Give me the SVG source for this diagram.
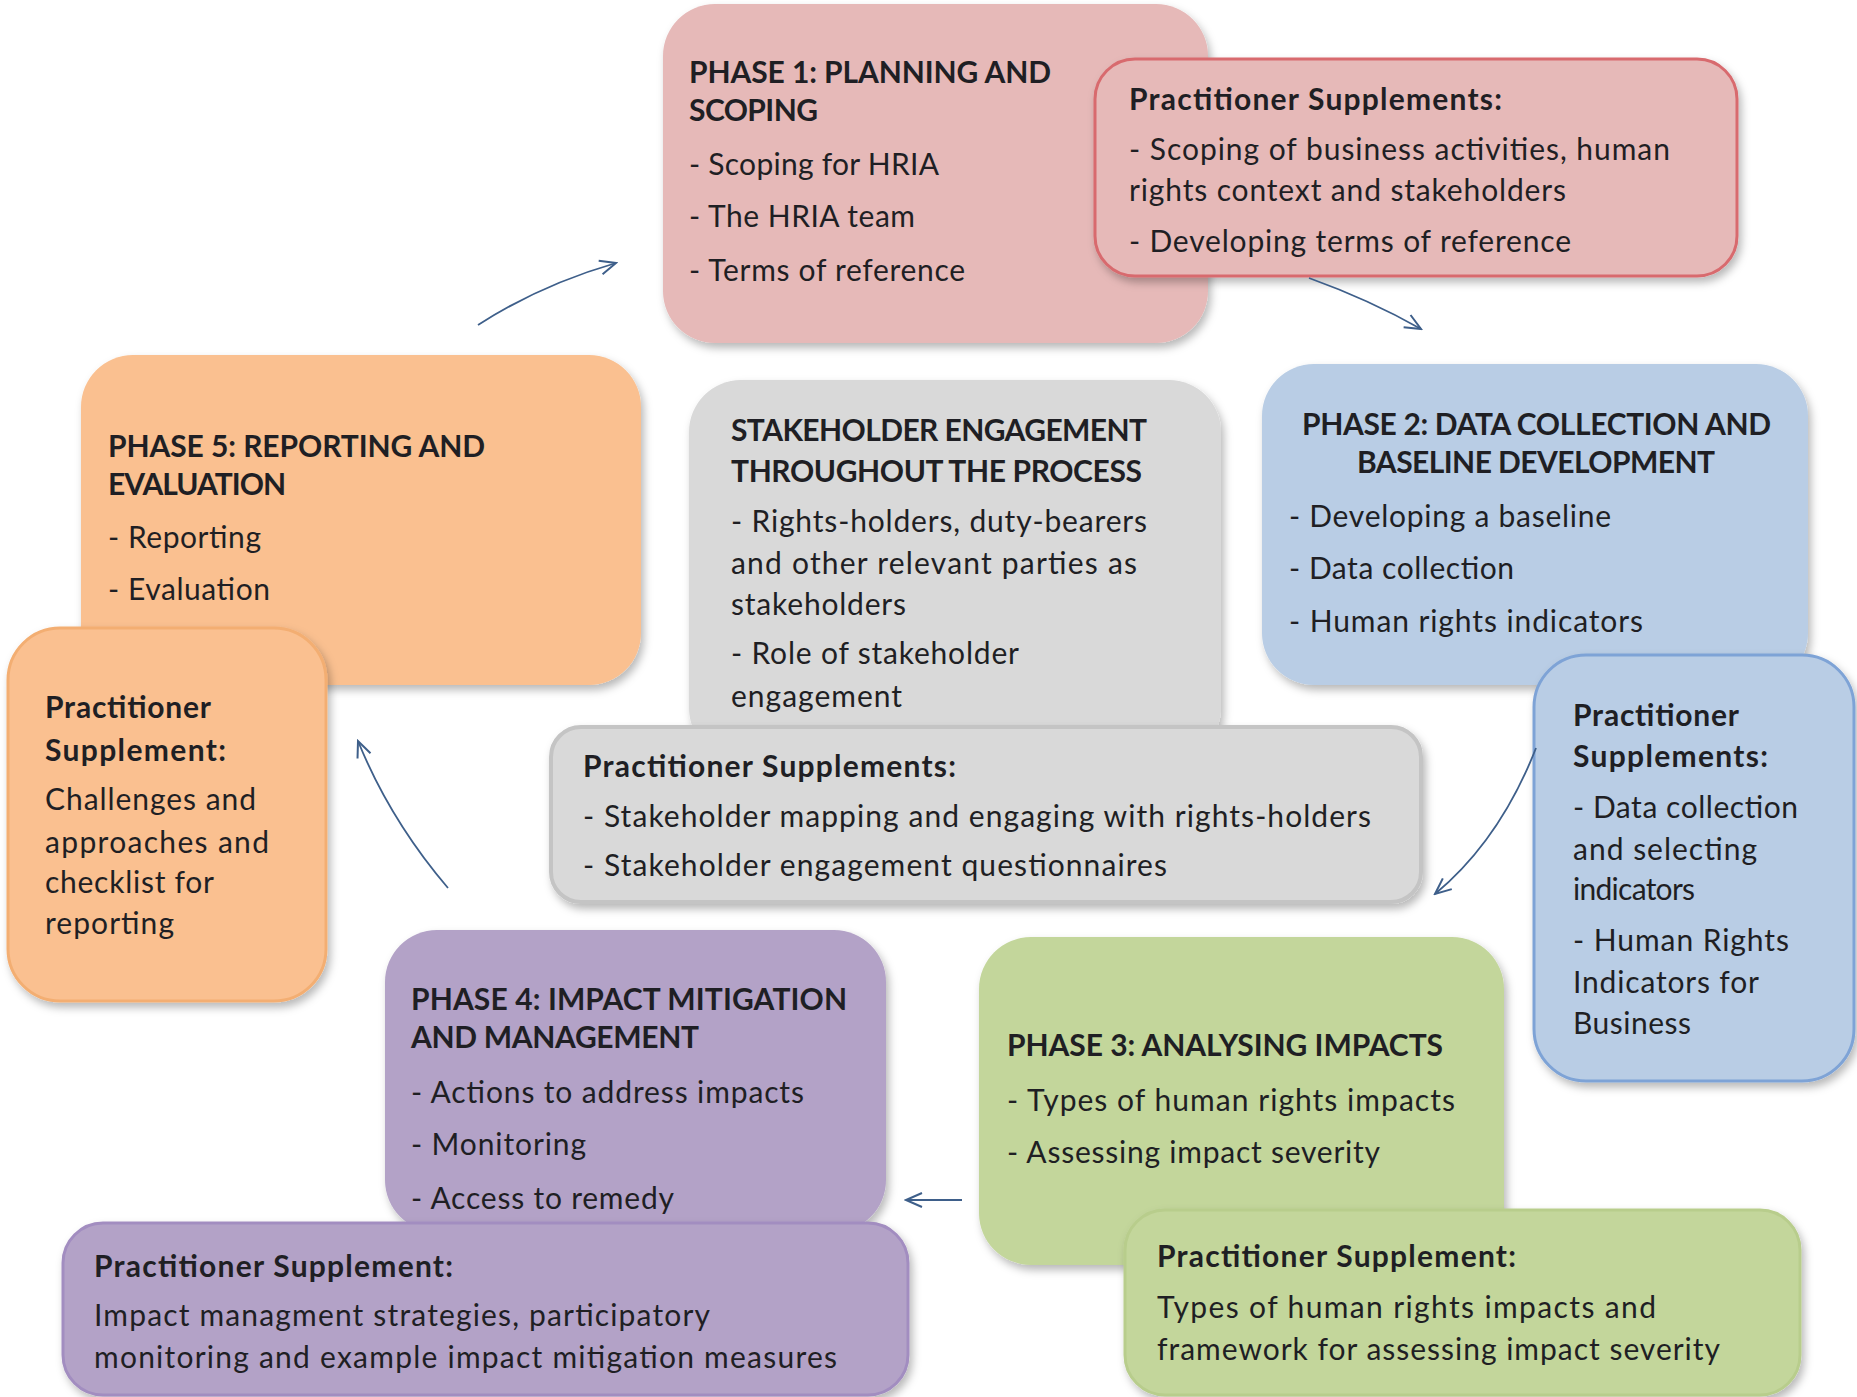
<svg xmlns="http://www.w3.org/2000/svg" width="1857" height="1397" viewBox="0 0 1857 1397">
<defs>
<filter id="sh" x="-10%" y="-10%" width="125%" height="130%">
<feDropShadow dx="3" dy="5" stdDeviation="4" flood-color="#000" flood-opacity="0.28"/>
</filter>
<marker id="ah" viewBox="0 0 20 20" refX="18" refY="10" markerWidth="20" markerHeight="20" markerUnits="userSpaceOnUse" orient="auto">
<path d="M2,3 L18,10 L2,17" fill="none" stroke="#3E5F8A" stroke-width="2"/>
</marker>
<style>
text{font-family:Lato,"Open Sans","Liberation Sans",sans-serif;font-size:30px;fill:#1f1f24}
.b{font-weight:bold}
.c{stroke:#3E5F8A;stroke-width:1.8;fill:none}
</style>
</defs>
<rect width="1857" height="1397" fill="#fff"/>

<g id="phase1">
<rect x="663" y="4" width="545" height="339" rx="52" fill="#E6B9B8" filter="url(#sh)"/>
<text x="689" y="83" class="b" textLength="362">PHASE 1: PLANNING  AND</text>
<text x="689" y="121" class="b" textLength="129">SCOPING</text>
<text x="689" y="175" textLength="250">- Scoping for HRIA</text>
<text x="689" y="227" textLength="226">- The HRIA team</text>
<text x="689" y="281" textLength="276">- Terms of reference</text>
</g>
<g id="phase2">
<rect x="1262" y="364" width="546" height="321" rx="52" fill="#B9CDE5" filter="url(#sh)"/>
<text x="1302" y="435" class="b" textLength="469">PHASE 2: DATA COLLECTION AND</text>
<text x="1357" y="473" class="b" textLength="358">BASELINE DEVELOPMENT</text>
<text x="1289" y="527" textLength="322">- Developing  a baseline</text>
<text x="1289" y="579" textLength="225">- Data  collection</text>
<text x="1289" y="632" textLength="354">- Human rights indicators</text>
</g>
<g id="stakeholder">
<rect x="689" y="380" width="532" height="380" rx="52" fill="#D9D9D9" filter="url(#sh)"/>
<text x="731" y="441" class="b" textLength="416">STAKEHOLDER  ENGAGEMENT</text>
<text x="731" y="482" class="b" textLength="411">THROUGHOUT THE PROCESS</text>
<text x="731" y="532" textLength="416">- Rights-holders, duty-bearers</text>
<text x="731" y="574" textLength="406">and other relevant parties as</text>
<text x="731" y="615" textLength="175">stakeholders</text>
<text x="731" y="664" textLength="288">- Role of stakeholder</text>
<text x="731" y="707" textLength="171">engagement</text>
</g>
<g id="phase3">
<rect x="979" y="937" width="525" height="328" rx="52" fill="#C3D69B" filter="url(#sh)"/>
<text x="1007" y="1056" class="b" textLength="436">PHASE 3: ANALYSING  IMPACTS</text>
<text x="1007" y="1111" textLength="448">- Types of human rights impacts</text>
<text x="1007" y="1163" textLength="373">- Assessing impact severity</text>
</g>
<g id="phase4">
<rect x="385" y="930" width="501" height="302" rx="52" fill="#B3A2C7" filter="url(#sh)"/>
<text x="411" y="1010" class="b" textLength="436">PHASE 4: IMPACT MITIGATION</text>
<text x="411" y="1048" class="b" textLength="288">AND MANAGEMENT</text>
<text x="411" y="1103" textLength="393">- Actions to address impacts</text>
<text x="411" y="1155" textLength="175">- Monitoring</text>
<text x="411" y="1209" textLength="263">- Access to remedy</text>
</g>
<g id="phase5">
<rect x="81" y="355" width="560" height="330" rx="52" fill="#FAC090" filter="url(#sh)"/>
<text x="108" y="457" class="b" textLength="377">PHASE 5: REPORTING AND</text>
<text x="108" y="495" class="b" textLength="178">EVALUATION</text>
<text x="108" y="548" textLength="153">- Reporting</text>
<text x="108" y="600" textLength="162">- Evaluation</text>
</g>

<g id="supp1">
<rect x="1095" y="59" width="642" height="217" rx="40" fill="#E6B9B8" stroke="#D86A6E" stroke-width="3" filter="url(#sh)"/>
<text x="1129" y="110" class="b" textLength="373">Practitioner Supplements:</text>
<text x="1129" y="160" textLength="541">- Scoping of business activities, human</text>
<text x="1129" y="201" textLength="437">rights context and stakeholders</text>
<text x="1129" y="252" textLength="442">- Developing  terms of reference</text>
</g>
<g id="supp2">
<rect x="1534" y="655" width="320" height="426" rx="52" fill="#B9CDE5" stroke="#7EA3D6" stroke-width="3" filter="url(#sh)"/>
<text x="1573" y="726" class="b" textLength="166">Practitioner</text>
<text x="1573" y="767" class="b" textLength="195">Supplements:</text>
<text x="1573" y="818" textLength="225">- Data collection</text>
<text x="1573" y="860" textLength="184">and selecting</text>
<text x="1573" y="900" textLength="122">indicators</text>
<text x="1573" y="951" textLength="216">- Human Rights</text>
<text x="1573" y="993" textLength="186">Indicators for</text>
<text x="1573" y="1034" textLength="118">Business</text>
</g>
<g id="suppS">
<rect x="551" y="727" width="870" height="175" rx="30" fill="#D9D9D9" stroke="#C4C4C4" stroke-width="4" filter="url(#sh)"/>
<text x="583" y="777" class="b" textLength="373">Practitioner Supplements:</text>
<text x="583" y="827" textLength="788">- Stakeholder  mapping and engaging with rights-holders</text>
<text x="583" y="876" textLength="584">- Stakeholder  engagement  questionnaires</text>
</g>
<g id="supp3">
<rect x="1125" y="1210" width="675" height="185" rx="40" fill="#C3D69B" stroke="#B8CD8C" stroke-width="3" filter="url(#sh)"/>
<text x="1157" y="1267" class="b" textLength="359">Practitioner Supplement:</text>
<text x="1157" y="1318" textLength="499">Types of human rights impacts  and</text>
<text x="1157" y="1360" textLength="563">framework for assessing impact severity</text>
</g>
<g id="supp4">
<rect x="63" y="1223" width="845" height="172" rx="40" fill="#B3A2C7" stroke="#A28DC0" stroke-width="3" filter="url(#sh)"/>
<text x="94" y="1277" class="b" textLength="359">Practitioner Supplement:</text>
<text x="94" y="1326" textLength="616">Impact managment strategies, participatory</text>
<text x="94" y="1368" textLength="743">monitoring and example  impact mitigation measures</text>
</g>
<g id="supp5">
<rect x="8" y="628" width="318" height="373" rx="52" fill="#FAC090" stroke="#F3AE72" stroke-width="3" filter="url(#sh)"/>
<text x="45" y="718" class="b" textLength="166">Practitioner</text>
<text x="45" y="761" class="b" textLength="181">Supplement:</text>
<text x="45" y="810" textLength="211">Challenges  and</text>
<text x="45" y="853" textLength="224">approaches  and</text>
<text x="45" y="893" textLength="169">checklist for</text>
<text x="45" y="934" textLength="129">reporting</text>
</g>

<g id="connectors">
<path class="c" d="M478,325 Q540,285 616,263" marker-end="url(#ah)"/>
<path class="c" d="M1309,278 Q1370,300 1421,329" marker-end="url(#ah)"/>
<path class="c" d="M1536,748 Q1500,840 1435,894" marker-end="url(#ah)"/>
<path class="c" d="M962,1200 L906,1200" marker-end="url(#ah)"/>
<path class="c" d="M448,888 Q390,820 358,741" marker-end="url(#ah)"/>
</g>
</svg>
